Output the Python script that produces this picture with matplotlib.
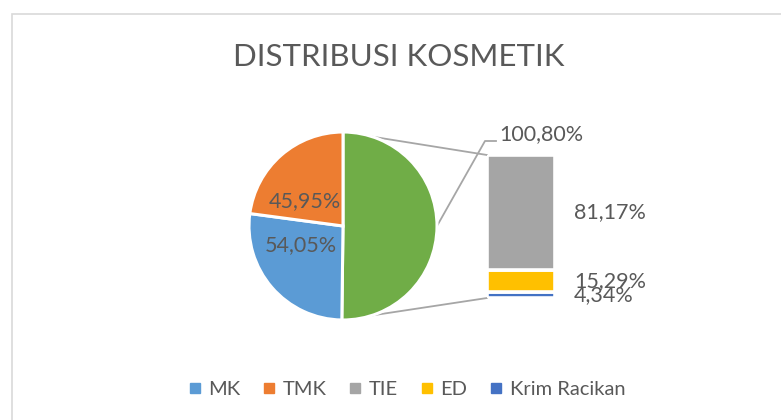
import matplotlib
matplotlib.use("Agg")
import matplotlib.pyplot as plt
from matplotlib.patches import ConnectionPatch, Rectangle
from matplotlib.lines import Line2D
import matplotlib.transforms as mtransforms
import numpy as np

plt.rcParams['font.family'] = ['Lato', 'DejaVu Sans']

# ---- data ----
title = "DISTRIBUSI KOSMETIK"
pie_labels = ["MK", "TMK"]
pie_values = [54.05, 45.95]
bar_labels = ["Krim Racikan", "ED", "TIE"]      # bottom -> top
bar_values = [4.34, 15.29, 81.17]
other_total = 100.80
legend_order = ["MK", "TMK", "TIE", "ED", "Krim Racikan"]
colors = {"MK": "#5B9BD5", "TMK": "#ED7D31", "TIE": "#A5A5A5",
          "ED": "#FFC000", "Krim Racikan": "#4472C4", "other": "#70AD47"}

W, H = 781, 420
fig = plt.figure(figsize=(W / 100, H / 100), dpi=100)
TXT = "#595959"

def fmt(v):
    return f"{v:.2f}%".replace(".", ",")

def frac_box(x0, y0, x1, y1):
    # pixel box (top-left origin) -> figure fraction rect
    return [x0 / W, 1 - y1 / H, (x1 - x0) / W, (y1 - y0) / H]

# chart border
fig.patches.append(Rectangle((11.5 / W, -0.1), 1.2, 1 - 13.5 / H + 0.1,
                             transform=fig.transFigure, fill=False,
                             edgecolor="#D9D9D9", linewidth=1.2, zorder=0))

fig.text(399 / W, 1 - 57 / H, title, ha="center", va="center",
         fontsize=22.5, color=TXT)

# ---- pie ----
cx, cy, r = 343, 226, 94
axp = fig.add_axes(frac_box(cx - r, cy - r, cx + r, cy + r), zorder=3)
vals = [other_total] + pie_values
cols = [colors["other"]] + [colors[k] for k in pie_labels]
wedges, _ = axp.pie(vals, colors=cols, startangle=90, counterclock=False,
                    radius=1, wedgeprops=dict(edgecolor="white", linewidth=2.2))
axp.set_xlim(-1, 1)
axp.set_ylim(-1, 1)
axp.set_aspect("equal")
axp.axis("off")
axp.patch.set_visible(False)

axp.text(-0.445, -0.20, fmt(pie_values[0]), ha="center", va="center",
         fontsize=15.5, color=TXT)
axp.text(-0.41, 0.26, fmt(pie_values[1]), ha="center", va="center",
         fontsize=15.5, color=TXT)

# ---- bar ----
axb = fig.add_axes(frac_box(487, 155, 555, 298), zorder=3)
tr = mtransforms.blended_transform_factory(axb.transAxes, axb.transData)
bottom = 0
for lab, v in zip(bar_labels, bar_values):
    axb.bar(0, v, width=1, bottom=bottom, color=colors[lab],
            edgecolor="white", linewidth=2.6)
    axb.text(1.28, bottom + v / 2, fmt(v), transform=tr, ha="left",
             va="center", fontsize=15.5, color=TXT)
    bottom += v
axb.set_xlim(-0.5, 0.5)
axb.set_ylim(0, sum(bar_values))
axb.axis("off")
axb.patch.set_visible(False)

# connectors
t1 = wedges[0].theta1
t2 = wedges[0].theta2
p_top = (np.cos(np.radians(t2)), np.sin(np.radians(t2)))
p_bot = (np.cos(np.radians(t1)), np.sin(np.radians(t1)))
for pp, qq in [(p_top, (-0.5, sum(bar_values))), (p_bot, (-0.5, 0))]:
    con = ConnectionPatch(xyA=pp, coordsA=axp.transData, xyB=qq,
                          coordsB=axb.transData, color="#A6A6A6",
                          linewidth=1.3, zorder=1)
    fig.add_artist(con)

# leader for other total
def fp(x, y):
    return (x / W, 1 - y / H)
pts = [fp(437, 226), fp(485, 141), fp(496, 141)]
fig.add_artist(Line2D([p[0] for p in pts], [p[1] for p in pts],
                      transform=fig.transFigure, color="#A6A6A6",
                      linewidth=1.3, zorder=2))
fig.text(499 / W, 1 - 134 / H, fmt(other_total), ha="left", va="center",
         fontsize=15.5, color=TXT)

# legend
handles = [Line2D([], [], marker="s", linestyle="none", markersize=7,
                  markerfacecolor=colors[k], markeredgecolor=colors[k])
           for k in legend_order]
fig.legend(handles, legend_order, loc="center", ncol=5,
           bbox_to_anchor=(407 / W, 1 - 389 / H), frameon=False,
           fontsize=14.5, labelcolor=TXT, handlelength=0.6,
           handletextpad=0.4, columnspacing=1.1)

fig.savefig("out.png", dpi=100)
